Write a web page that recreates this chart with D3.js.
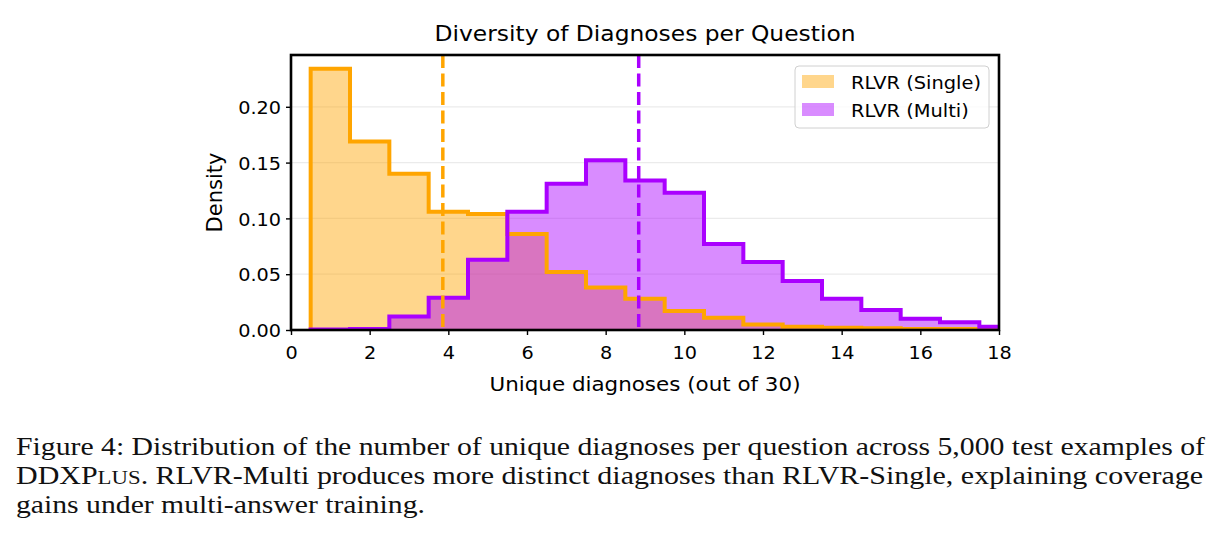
<!DOCTYPE html>
<html>
<head>
<meta charset="utf-8">
<script src="https://cdn.jsdelivr.net/npm/d3@7.9.0/dist/d3.min.js"></script>
<style>
  html, body { margin: 0; padding: 0; background: #fff; }
  svg { display: block; }
  .tick text { font-family: "DejaVu Sans", sans-serif; font-size: 18.5px; fill: #000; }
  .tick line { stroke: #000; stroke-width: 1.4; }
</style>
</head>
<body>
<svg id="chart" width="1218" height="537"></svg>
<script>
// histogram values (density per integer bin)
const binCenters = [1, 2, 3, 4, 5, 6, 7, 8, 9, 10, 11, 12, 13, 14, 15, 16, 17, 18];
const singleDensity = [0.234, 0.169, 0.140, 0.106, 0.104, 0.086, 0.052, 0.038, 0.028,
  0.017, 0.011, 0.005, 0.003, 0.002, 0.0015, 0.001, 0.001, 0];
const multiDensity = [0.0005, 0.001, 0.012, 0.029, 0.063, 0.106, 0.131, 0.152, 0.134,
  0.123, 0.077, 0.061, 0.044, 0.028, 0.018, 0.010, 0.007, 0.003];
const meanSingle = 3.86;
const meanMulti = 8.84;
const xTicks = [0, 2, 4, 6, 8, 10, 12, 14, 16, 18];
const yTicks = [0, 0.05, 0.10, 0.15, 0.20];
const seriesNames = ['RLVR (Single)', 'RLVR (Multi)'];
const captionLines = [
  'Figure 4: Distribution of the number of unique diagnoses per question across 5,000 test examples of',
  '. RLVR-Multi produces more distinct diagnoses than RLVR-Single, explaining coverage',
  'gains under multi-answer training.'
];

const orange = '#ffa500';
const purple = '#aa00ff';

const svg = d3.select('#chart');
svg.append('rect').attr('width', 1218).attr('height', 537).attr('fill', '#fff');

// glyphs in the figure are a bit wider than plain DejaVu, stretch along the text
function stretch(sel, k) {
  sel.each(function () {
    const len = this.getComputedTextLength();
    d3.select(this).attr('textLength', len * k).attr('lengthAdjust', 'spacingAndGlyphs');
  });
}

const margin = { left: 291, right: 999, top: 55, bottom: 330 };
const x = d3.scaleLinear().domain([0, 18]).range([margin.left, margin.right]);
const y = d3.scaleLinear().domain([0, 0.2464]).range([margin.bottom, margin.top]);

svg.append('clipPath').attr('id', 'plotClip')
  .append('rect')
  .attr('x', margin.left).attr('y', margin.top)
  .attr('width', margin.right - margin.left)
  .attr('height', margin.bottom - margin.top);

// grid
svg.append('g').selectAll('line')
  .data(yTicks.slice(1))
  .join('line')
  .attr('x1', margin.left).attr('x2', margin.right)
  .attr('y1', d => y(d)).attr('y2', d => y(d))
  .attr('stroke', '#ebebeb').attr('stroke-width', 1.3);

// step outline points for a histogram (bins of width 1, centred on integers)
function stepPoints(values) {
  const pts = [[binCenters[0] - 0.5, 0]];
  values.forEach((v, i) => {
    pts.push([binCenters[i] - 0.5, v]);
    pts.push([binCenters[i] + 0.5, v]);
  });
  pts.push([binCenters[binCenters.length - 1] + 0.5, 0]);
  return pts;
}

const area = d3.area().x(d => x(d[0])).y0(y(0)).y1(d => y(d[1]));
const line = d3.line().x(d => x(d[0])).y(d => y(d[1]));

const plot = svg.append('g').attr('clip-path', 'url(#plotClip)');

const series = [
  { values: singleDensity, color: orange },
  { values: multiDensity, color: purple }
];

series.forEach(s => {
  plot.append('path')
    .attr('d', area(stepPoints(s.values)))
    .attr('fill', s.color).attr('fill-opacity', 0.45);
});
series.forEach(s => {
  plot.append('path')
    .attr('d', line(stepPoints(s.values)))
    .attr('fill', 'none').attr('stroke', s.color)
    .attr('stroke-width', 4).attr('stroke-linejoin', 'miter');
});

// mean lines
[[meanSingle, orange], [meanMulti, purple]].forEach(([m, c]) => {
  plot.append('line')
    .attr('x1', x(m)).attr('x2', x(m))
    .attr('y1', y.range()[1]).attr('y2', y.range()[0])
    .attr('stroke', c).attr('stroke-width', 3.5)
    .attr('stroke-dasharray', '13,5.5');
});

// axes
const xAxis = svg.append('g')
  .attr('transform', `translate(0,${margin.bottom})`)
  .call(d3.axisBottom(x).tickValues(xTicks).tickSize(5).tickFormat(d3.format('d')));
xAxis.select('.domain').remove();
xAxis.selectAll('.tick text').attr('y', 28.5).attr('dy', 0).call(stretch, 1.04);

const yAxis = svg.append('g')
  .attr('transform', `translate(${margin.left},0)`)
  .call(d3.axisLeft(y).tickValues(yTicks).tickSize(5).tickPadding(5).tickFormat(d3.format('.2f')));
yAxis.select('.domain').remove();
yAxis.selectAll('.tick text').attr('dy', '0.36em').call(stretch, 1.04);

// spines
svg.append('rect')
  .attr('x', margin.left).attr('y', margin.top)
  .attr('width', margin.right - margin.left)
  .attr('height', margin.bottom - margin.top)
  .attr('fill', 'none').attr('stroke', '#000').attr('stroke-width', 2.6);

// title + labels
const sans = '"DejaVu Sans", sans-serif';
svg.append('text')
  .attr('x', (margin.left + margin.right) / 2).attr('y', 41)
  .attr('text-anchor', 'middle')
  .attr('font-family', sans).attr('font-size', 21.5)
  .attr('textLength', 421).attr('lengthAdjust', 'spacingAndGlyphs')
  .text('Diversity of Diagnoses per Question');

svg.append('text')
  .attr('x', (margin.left + margin.right) / 2).attr('y', 391)
  .attr('text-anchor', 'middle')
  .attr('font-family', sans).attr('font-size', 20)
  .attr('textLength', 311).attr('lengthAdjust', 'spacingAndGlyphs')
  .text('Unique diagnoses (out of 30)');

svg.append('text')
  .attr('transform', `translate(222,${(margin.top + margin.bottom) / 2}) rotate(-90)`)
  .attr('text-anchor', 'middle')
  .attr('font-family', sans).attr('font-size', 21)
  .attr('textLength', 80).attr('lengthAdjust', 'spacingAndGlyphs')
  .text('Density');

// legend
const legend = svg.append('g').attr('transform', 'translate(795,66)');
legend.append('rect')
  .attr('width', 194).attr('height', 62).attr('rx', 4)
  .attr('fill', '#fff').attr('fill-opacity', 0.8)
  .attr('stroke', '#d0d0d0').attr('stroke-width', 1);
seriesNames.forEach((name, i) => {
  const row = legend.append('g').attr('transform', `translate(0,${i * 28})`);
  row.append('rect')
    .attr('x', 7).attr('y', 9).attr('width', 32).attr('height', 13)
    .attr('fill', series[i].color).attr('fill-opacity', 0.45);
  row.append('text')
    .attr('x', 56).attr('y', 22.5)
    .attr('font-family', sans).attr('font-size', 18.5)
    .text(name)
    .call(stretch, 1.05);
});

// caption
const serif = '"Liberation Serif", "DejaVu Serif", serif';
const cap = svg.append('g').attr('font-family', serif).attr('font-size', 25).attr('fill', '#111');
cap.append('text')
  .attr('x', 16).attr('y', 455)
  .attr('textLength', 1189).attr('lengthAdjust', 'spacingAndGlyphs')
  .text(captionLines[0]);
const l2 = cap.append('text')
  .attr('x', 16).attr('y', 484)
  .attr('textLength', 1187).attr('lengthAdjust', 'spacingAndGlyphs');
l2.append('tspan').text('DDXP');
l2.append('tspan').attr('font-size', 19).text('LUS');
l2.append('tspan').text(captionLines[1]);
cap.append('text')
  .attr('x', 16).attr('y', 513)
  .attr('textLength', 409).attr('lengthAdjust', 'spacingAndGlyphs')
  .text(captionLines[2]);
</script>
</body>
</html>
